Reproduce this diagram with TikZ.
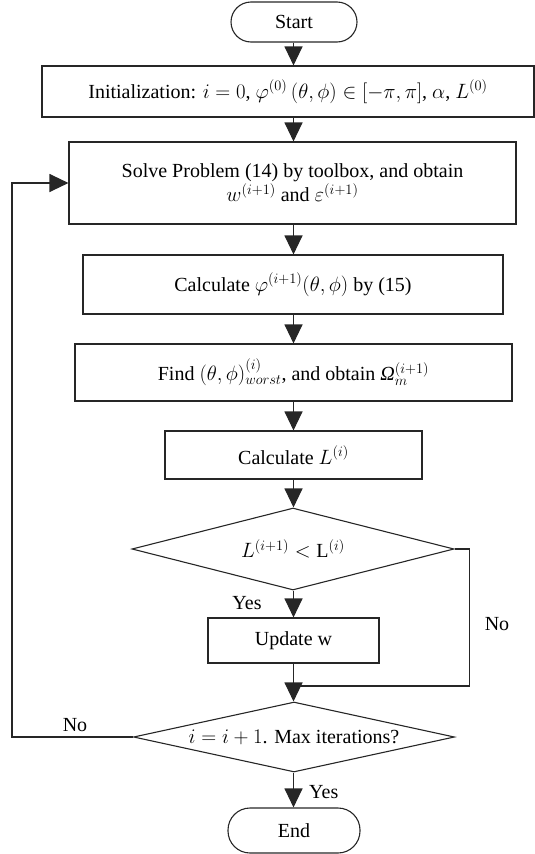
\documentclass[tikz,border=0pt]{standalone}
\usepackage{fontspec}
\setmainfont{Liberation Serif}
\usetikzlibrary{arrows.meta,shapes.geometric}
\tikzset{
  base/.style={draw=black!85, line width=1.1pt, inner sep=0pt, align=center, font=\fontsize{20}{23}\selectfont},
  procbox/.style={base, rectangle},
  pill/.style={base, rectangle, rounded corners=20pt},
  decision/.style={base, diamond},
  conn/.style={draw=black!85, line width=1.1pt},
  arr/.style={conn, -{Triangle[length=19pt,width=18pt]}},
  lbl/.style={inner sep=0pt, font=\fontsize{20}{23}\selectfont},
}
\begin{document}
\begin{tikzpicture}[x=1pt,y=-1pt]
\useasboundingbox (0,0) rectangle (535,854);
\node[pill, minimum width=126pt, minimum height=40pt] (start) at (294,22) {Start};
\node[procbox, minimum width=492pt, minimum height=51pt] (init) at (288,91.5)
  {Initialization: $i=0$, $\varphi^{(0)}\,(\theta,\phi)\in[-\pi,\pi]$, $\alpha$, $L^{(0)}$};
\node[procbox, minimum width=447pt, minimum height=82pt] (solve) at (292.5,183)
  {Solve Problem (14) by toolbox, and obtain\\[1pt] $w^{(i+1)}$ and $\varepsilon^{(i+1)}$};
\node[procbox, minimum width=420pt, minimum height=59pt] (calcphi) at (293,284.5)
  {Calculate $\varphi^{(i+1)}(\theta,\phi)$ by (15)};
\node[procbox, minimum width=437pt, minimum height=57pt] (find) at (293.5,372.5)
  {Find $(\theta,\phi)^{(i)}_{worst}$, and obtain $\mbox{\itshape Ω}_m^{(i+1)}$};
\node[procbox, minimum width=257pt, minimum height=48pt] (calcL) at (293.5,455)
  {Calculate $L^{(i)}$};
\node[decision, minimum width=322pt, minimum height=82pt, aspect=3.9] (d1) at (293,549)
  {$L^{(i+1)}<\mathrm{L}^{(i)}$};
\node[procbox, minimum width=171pt, minimum height=45pt] (update) at (293.5,640.5)
  {Update w};
\node[decision, minimum width=321pt, minimum height=70pt, aspect=4.6] (d2) at (294,737)
  {$i=i+1$. Max iterations?};
\node[pill, minimum width=132pt, minimum height=45pt, rounded corners=22pt] (end) at (294,830.5) {End};
\coordinate (merge) at (293.5,686);
\coordinate (ax) at (293.5,0);
% arrows
\draw[arr] (start.south -| ax) -- (init.north -| ax);
\draw[arr] (init.south -| ax) -- (solve.north -| ax);
\draw[arr] (solve.south -| ax) -- (calcphi.north -| ax);
\draw[arr] (calcphi.south -| ax) -- (find.north -| ax);
\draw[arr] (find.south -| ax) -- (calcL.north -| ax);
\draw[arr] (calcL.south -| ax) -- (d1.north -| ax);
\draw[arr] (d1.south -| ax) -- (update.north -| ax);
\draw[arr] (update.south -| ax) -- (d2.north -| ax);
\draw[conn] (d1.east) -- ++(15,0) |- (merge);
\draw[arr] (d2.west) -- ++(-121,0) |- (solve.west);
\draw[arr] (d2.south -| ax) -- (end.north -| ax);
% labels
\node[lbl] (yes1) at (247,603) {Yes};
\node[lbl] (no1) at (497,624) {No};
\node[lbl] (no2) at (75,725) {No};
\node[lbl, anchor=west] (yes2) at (309,792) {Yes};
\end{tikzpicture}
\end{document}
